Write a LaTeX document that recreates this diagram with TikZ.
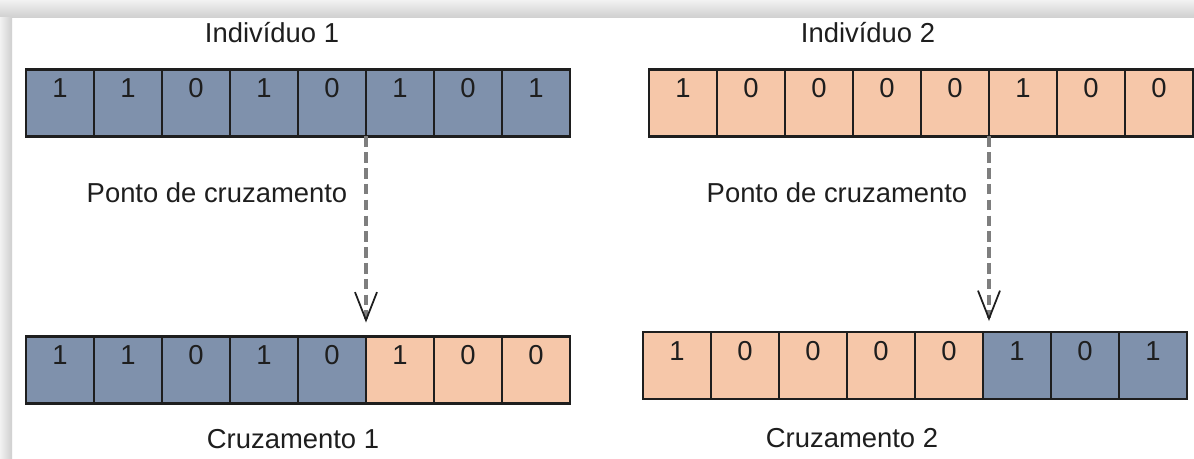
\documentclass[tikz,border=0pt]{standalone}
\usepackage{fontspec}
\setmainfont{Liberation Sans}
\usetikzlibrary{arrows.meta,calc}
\definecolor{cellblue}{HTML}{7F91AC}
\definecolor{cellpeach}{HTML}{F6C7A9}
\definecolor{ink}{HTML}{1E1E1E}
\definecolor{cutline}{HTML}{7E7E7E}

\begin{document}
\begin{tikzpicture}[
    x=0.02cm, y=-0.02cm,
    font=\fontsize{15.6}{18}\selectfont,
    cell/.style={draw=ink, line width=1.2pt, minimum width=1.36cm, minimum height=1.34cm, inner sep=0pt, outer sep=0pt, text height=0.56cm, text depth=0.78cm, text=ink},
    caption/.style={anchor=base, text=ink},
    cut/.style={draw=cutline, line width=2.2pt, dash pattern=on 6pt off 3pt, -{Straight Barb[length=5.6mm, width=4.4mm, line width=1pt, color=ink]}}
]
    \useasboundingbox (0,0) rectangle (1194,459);

    % Frame
    \fill[white] (0,0) rectangle (1194,459);
    \shade[top color=gray!10, bottom color=gray!38] (0,0) rectangle (1194,18);
    \shade[left color=gray!10, right color=gray!38] (0,18) rectangle (12,459);

    % Parents
    \foreach \b [count=\i] in {1,1,0,1,0,1,0,1}
        \node[cell, fill=cellblue] (a\i) at ({60+68*(\i-1)},103) {\b};
    \foreach \b [count=\i] in {1,0,0,0,0,1,0,0}
        \node[cell, fill=cellpeach] (b\i) at ({683+68*(\i-1)},103) {\b};

    % Offspring
    \foreach \b/\f [count=\i] in {1/cellblue,1/cellblue,0/cellblue,1/cellblue,0/cellblue,1/cellpeach,0/cellpeach,0/cellpeach}
        \node[cell, fill=\f] (c\i) at ({60+68*(\i-1)},370) {\b};
    \foreach \b/\f [count=\i] in {1/cellpeach,0/cellpeach,0/cellpeach,0/cellpeach,0/cellpeach,1/cellblue,0/cellblue,1/cellblue}
        \node[cell, fill=\f] (d\i) at ({677+68*(\i-1)},365.5) {\b};

    % Captions
    \node[caption] (ind1) at (272,43) {Indivíduo 1};
    \node[caption] (ind2) at (868,43) {Indivíduo 2};
    \node[caption] (pc1) at (217,203) {Ponto de cruzamento};
    \node[caption] (pc2) at (837,203) {Ponto de cruzamento};
    \node[caption] (cz1) at (293,448) {Cruzamento 1};
    \node[caption] (cz2) at (852,447) {Cruzamento 2};

    % Crossover points
    \draw[cut] (a5.south east) -- ([yshift=0.28cm]c5.north east);
    \draw[cut] (b5.south east) -- ($(b5.south east |- d5.north)+(0,0.22cm)$);
\end{tikzpicture}
\end{document}
